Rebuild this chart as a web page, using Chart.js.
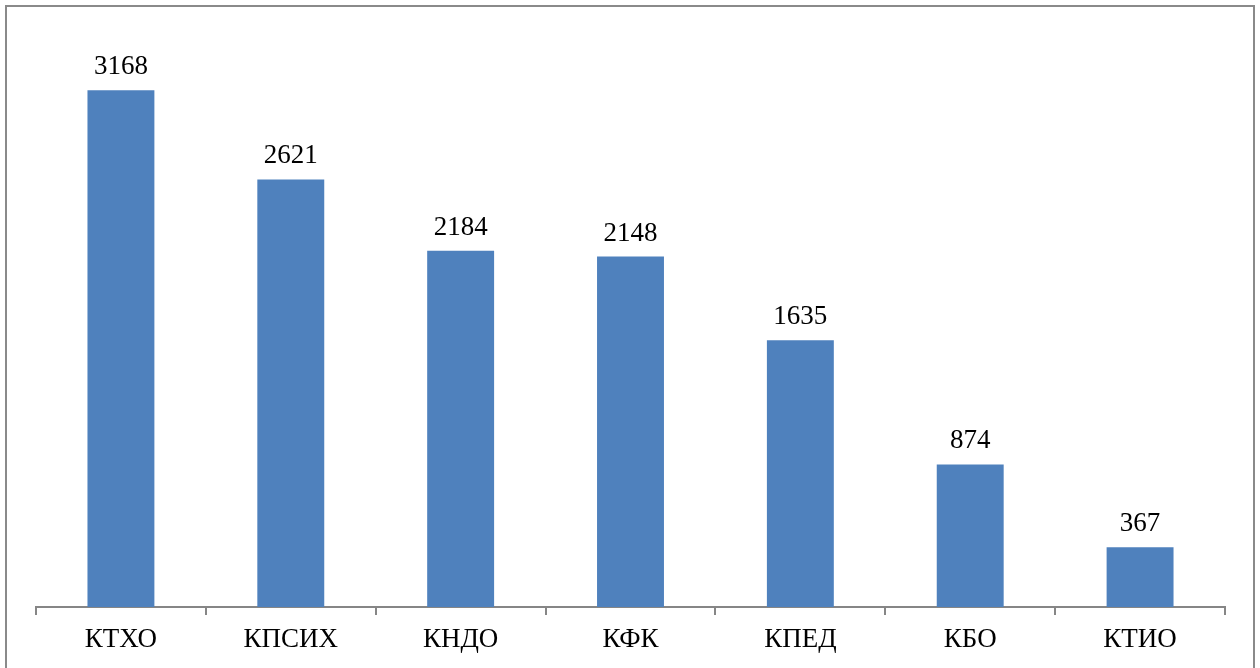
<!DOCTYPE html>
<html lang="ru">
<head>
  <meta charset="UTF-8">
  <title>Chart</title>
  <script src="https://cdn.jsdelivr.net/npm/chart.js"></script>
  <style>
    html, body {
      margin: 0;
      padding: 0;
      background: #fff;
      overflow: hidden;
    }
    #wrap {
      position: relative;
      width: 1260px;
      height: 668px;
    }
    #frame {
      position: absolute;
      left: 5px;
      top: 5px;
      width: 1246px;
      height: 700px;
      border: 2px solid #8a8a8a;
      pointer-events: none;
    }
  </style>
</head>
<body>
<div id="wrap">
  <canvas id="chart" width="1260" height="668"></canvas>
  <div id="frame"></div>
</div>

<script>
  const categories = ['КТХО', 'КПСИХ', 'КНДО', 'КФК', 'КПЕД', 'КБО', 'КТИО'];
  const values = [3168, 2621, 2184, 2148, 1635, 874, 367];

  const serif = "'Liberation Serif', 'Times New Roman', serif";

  // value above each bar
  const valueLabels = {
    id: 'valueLabels',
    afterDatasetsDraw(chart) {
      const ctx = chart.ctx;
      const meta = chart.getDatasetMeta(0);
      ctx.save();
      ctx.font = '27px ' + serif;
      ctx.fillStyle = '#000';
      ctx.textAlign = 'center';
      ctx.textBaseline = 'alphabetic';
      meta.data.forEach((bar, i) => {
        ctx.fillText(values[i], bar.x, bar.y - 16);
      });
      ctx.restore();
    }
  };

  new Chart(document.getElementById('chart'), {
    type: 'bar',
    data: {
      labels: categories,
      datasets: [{
        data: values,
        backgroundColor: '#4f81bd',
        categoryPercentage: 1,
        barPercentage: 0.394
      }]
    },
    options: {
      responsive: false,
      animation: false,
      layout: {
        padding: { left: 36, right: 35, top: 36, bottom: 0 }
      },
      plugins: {
        legend: { display: false },
        tooltip: { enabled: false }
      },
      scales: {
        x: {
          offset: true,
          grid: {
            offset: true,
            drawOnChartArea: false,
            drawTicks: true,
            tickLength: 8,
            color: '#868686',
            lineWidth: 2
          },
          border: { color: '#868686', width: 2 },
          ticks: {
            color: '#000',
            font: { family: serif, size: 27 },
            padding: 9,
            maxRotation: 0
          },
          afterFit(scale) {
            scale.height = 61;
          }
        },
        y: {
          display: false,
          min: 0,
          max: 3500
        }
      }
    },
    plugins: [valueLabels]
  });
</script>
</body>
</html>
